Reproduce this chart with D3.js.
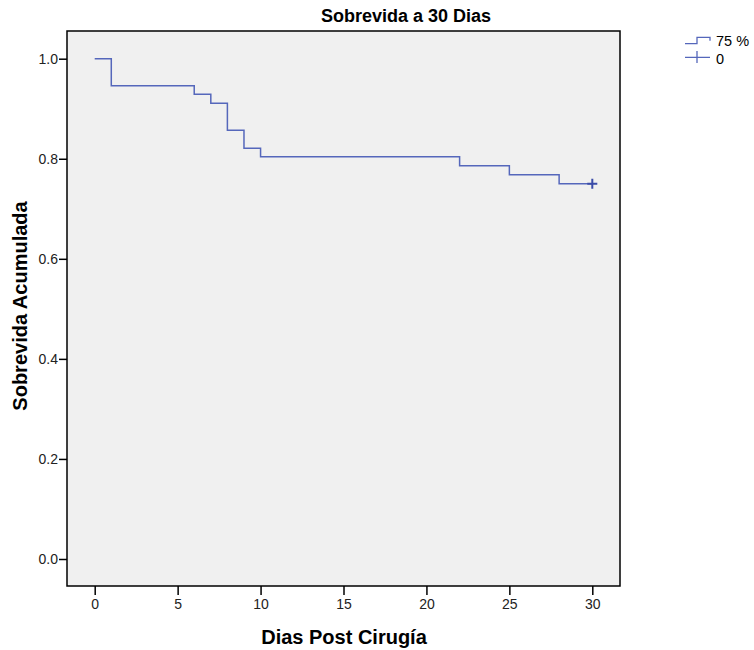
<!DOCTYPE html>
<meta charset="utf-8">
<script src="https://d3js.org/d3.v7.min.js"></script>
<style>
body { margin: 0; background: #fff; }
svg { font-family: "Liberation Sans", Arial, sans-serif; }
.axis text { font-size: 14px; fill: #222; }
.axis path { display: none; }
.axis line { stroke: #000; stroke-width: 1.5; }
</style>
<body>
<script>
// survival steps (56 cases)
var days = [0, 1, 6, 7, 8, 9, 10, 22, 25, 28, 30];
var surv = [1.0, 0.946, 0.929, 0.911, 0.857, 0.821, 0.804, 0.786, 0.768, 0.75, 0.75];
var censorDays = [30];
var censorSurv = [0.75];
var xTicks = [0, 5, 10, 15, 20, 25, 30];
var yTicks = [0.0, 0.2, 0.4, 0.6, 0.8, 1.0];
var legendLabels = ["75 %", "0"];

var W = 754, H = 650;
var frame = {left: 67, top: 31, right: 620, bottom: 586};

var x = d3.scaleLinear().domain([0, 30]).range([94.7, 592.3]);
var y = d3.scaleLinear().domain([0, 1]).range([559, 58.7]);

var svg = d3.select("body").append("svg")
    .attr("width", W).attr("height", H);

svg.append("rect")
    .attr("x", frame.left).attr("y", frame.top)
    .attr("width", frame.right - frame.left)
    .attr("height", frame.bottom - frame.top)
    .attr("fill", "#f0f0f0")
    .attr("stroke", "#000").attr("stroke-width", 1.5);

// axes
svg.append("g").attr("class", "x axis")
    .attr("transform", "translate(0," + frame.bottom + ")")
    .call(d3.axisBottom(x).tickValues(xTicks).tickSize(9).tickPadding(4).tickFormat(d3.format("d")));

svg.append("g").attr("class", "y axis")
    .attr("transform", "translate(" + frame.left + ",0)")
    .call(d3.axisLeft(y).tickValues(yTicks).tickSize(8).tickPadding(1).tickFormat(d3.format(".1f")));

// survival curve
var pts = days.map(function(d, i) { return [d, surv[i]]; });
var line = d3.line()
    .x(function(d) { return x(d[0]); })
    .y(function(d) { return y(d[1]); })
    .curve(d3.curveStepAfter);

svg.append("path")
    .datum(pts)
    .attr("d", line)
    .attr("fill", "none")
    .attr("stroke", "#5567bb")
    .attr("stroke-width", 1.5);

// censored marks
svg.selectAll(".censor")
    .data(censorDays.map(function(d, i) { return [d, censorSurv[i]]; }))
    .enter().append("path")
    .attr("class", "censor")
    .attr("d", function(d) {
        var cx = x(d[0]), cy = y(d[1]);
        return "M" + (cx - 5) + "," + cy + "H" + (cx + 5) + "M" + cx + "," + (cy - 5) + "V" + (cy + 5);
    })
    .attr("stroke", "#3a4ca8")
    .attr("stroke-width", 2);

// titles
svg.append("text")
    .attr("x", 406).attr("y", 22)
    .attr("text-anchor", "middle")
    .style("font-weight", "bold").style("font-size", "18px")
    .text("Sobrevida a 30 Dias");

svg.append("text")
    .attr("x", 344).attr("y", 644)
    .attr("text-anchor", "middle")
    .style("font-weight", "bold").style("font-size", "20px")
    .text("Dias Post Cirugía");

svg.append("text")
    .attr("transform", "translate(27,306) rotate(-90)")
    .attr("text-anchor", "middle")
    .style("font-weight", "bold").style("font-size", "20px")
    .text("Sobrevida Acumulada");

// legend
var lg = svg.append("g");
lg.append("path")
    .attr("d", "M685,43.7H697V37.3H710V40.7")
    .attr("fill", "none").attr("stroke", "#5567bb").attr("stroke-width", 1.3);
lg.append("path")
    .attr("d", "M685,57.3H710M697,51V63")
    .attr("fill", "none").attr("stroke", "#5567bb").attr("stroke-width", 1.3);
lg.selectAll("text")
    .data(legendLabels)
    .enter().append("text")
    .attr("x", 716)
    .attr("y", function(d, i) { return 46 + i * 18; })
    .style("font-size", "14.5px")
    .text(function(d) { return d; });
</script>
</body>
</html>
